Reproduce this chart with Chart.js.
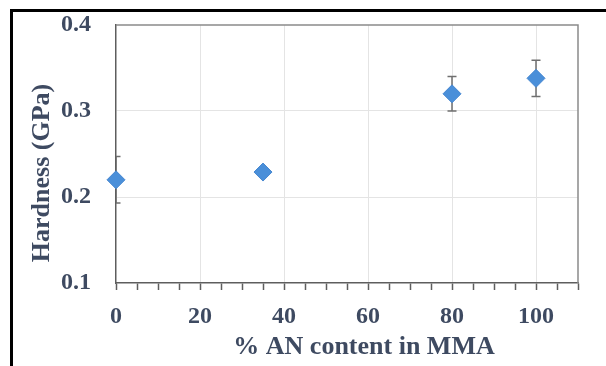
<!DOCTYPE html>
<html lang="en">
  <head>
    <meta charset="utf-8" />
    <title>Hardness vs AN content</title>
    <script src="https://cdn.jsdelivr.net/npm/chart.js"></script>
    <style>
      body { margin: 0; background: #fff; }
      #wrap { position: relative; width: 606px; height: 366px; overflow: hidden; }
      #frame {
        position: absolute; left: 10px; top: 9px; width: 700px; height: 500px;
        border-top: 3px solid #000; border-left: 3px solid #000;
        pointer-events: none;
      }
    </style>
  </head>
  <body>
    <div id="wrap">
      <canvas id="myChart" width="606" height="366"></canvas>
      <div id="frame"></div>
    </div>

  <script>
    // data
    var anContent = [0, 35, 80, 100];
    var hardness = [0.22, 0.229, 0.32, 0.338];
    var hardnessErr = [0.027, 0.004, 0.02, 0.021];

    var xTitle = "% AN content in MMA";
    var yTitle = "Hardness (GPa)";

    var textColor = "#3e4a61";
    var gridColor = "#e4e4e4";
    var axisColor = "#5e5e5e";

    let points = anContent.map((x, i) => ({ x: x, y: hardness[i] }));

    // error bars, drawn behind the markers and clipped to the plot area
    let errorBars = {
      id: "errorBars",
      beforeDatasetsDraw: (chart) => {
        let ctx = chart.ctx;
        let xs = chart.scales.x;
        let ys = chart.scales.y;
        let a = chart.chartArea;
        ctx.save();
        ctx.beginPath();
        ctx.rect(a.left, a.top, a.right - a.left, a.bottom - a.top);
        ctx.clip();
        ctx.strokeStyle = "#6f6f6f";
        ctx.lineWidth = 1.5;
        anContent.forEach((x, i) => {
          let px = xs.getPixelForValue(x);
          let top = ys.getPixelForValue(hardness[i] + hardnessErr[i]);
          let bot = ys.getPixelForValue(hardness[i] - hardnessErr[i]);
          ctx.beginPath();
          ctx.moveTo(px, top);
          ctx.lineTo(px, bot);
          ctx.moveTo(px - 4.5, top);
          ctx.lineTo(px + 4.5, top);
          ctx.moveTo(px - 4.5, bot);
          ctx.lineTo(px + 4.5, bot);
          ctx.stroke();
        });
        ctx.restore();
      },
    };

    // top and right sides of the plot box, plus the axis titles
    let plotBox = {
      id: "plotBox",
      afterDraw: (chart) => {
        let ctx = chart.ctx;
        let a = chart.chartArea;
        ctx.save();
        ctx.strokeStyle = "#8a8a8a";
        ctx.lineWidth = 1.5;
        ctx.beginPath();
        ctx.moveTo(a.left, a.top);
        ctx.lineTo(a.right, a.top);
        ctx.lineTo(a.right, a.bottom);
        ctx.stroke();

        ctx.fillStyle = textColor;
        ctx.font = "bold 26px 'Liberation Serif'";
        ctx.textAlign = "center";
        ctx.textBaseline = "middle";
        ctx.fillText(xTitle, (a.left + a.right) / 2 + 17, 347);

        ctx.translate(42, (a.top + a.bottom) / 2 + 19);
        ctx.rotate(-Math.PI / 2);
        ctx.fillText(yTitle, 0, 0);
        ctx.restore();
      },
    };

    let edge = (ctx, lo, hi) => {
      let v = ctx.tick.value;
      return Math.abs(v - lo) < 1e-6 || Math.abs(v - hi) < 1e-6;
    };

    new Chart(document.getElementById("myChart"), {
      type: "scatter",
      data: {
        datasets: [
          {
            label: "Hardness",
            data: points,
            pointStyle: "rectRot",
            pointRadius: 9,
            pointHoverRadius: 9,
            backgroundColor: "#4a8fd9",
            borderColor: "#4586d0",
            borderWidth: 1,
            clip: false,
          },
        ],
      },
      options: {
        responsive: false,
        animation: false,
        events: [],
        layout: { padding: { left: 61, top: 25, right: 28, bottom: 0 } },
        plugins: {
          legend: { display: false },
          tooltip: { enabled: false },
        },
        scales: {
          x: {
            type: "linear",
            min: 0,
            max: 110,
            afterFit: (scale) => { scale.height = 83; },
            border: { color: axisColor, width: 1.5 },
            grid: {
              color: (ctx) =>
                !edge(ctx, 0, 110) && ctx.tick.value % 20 === 0 ? gridColor : "rgba(0,0,0,0)",
              tickColor: axisColor,
              tickLength: 7,
              tickWidth: 1.5,
              lineWidth: 1,
            },
            ticks: {
              stepSize: 5,
              autoSkip: false,
              maxRotation: 0,
              padding: 12,
              color: textColor,
              font: { family: "'Liberation Serif'", size: 24, weight: "bold" },
              callback: (v) => (v % 20 === 0 && v <= 100 ? String(v) : ""),
            },
          },
          y: {
            min: 0.1,
            max: 0.4,
            afterFit: (scale) => { scale.width = 116 - 61; },
            border: { color: axisColor, width: 1.5 },
            grid: {
              color: (ctx) => (edge(ctx, 0.1, 0.4) ? "rgba(0,0,0,0)" : gridColor),
              drawTicks: false,
              lineWidth: 1,
            },
            ticks: {
              stepSize: 0.1,
              padding: 0,
              crossAlign: "far",
              color: textColor,
              font: { family: "'Liberation Serif'", size: 24, weight: "bold" },
              callback: (v) => v.toFixed(1),
            },
          },
        },
      },
      plugins: [errorBars, plotBox],
    });
  </script>
  </body>
</html>
